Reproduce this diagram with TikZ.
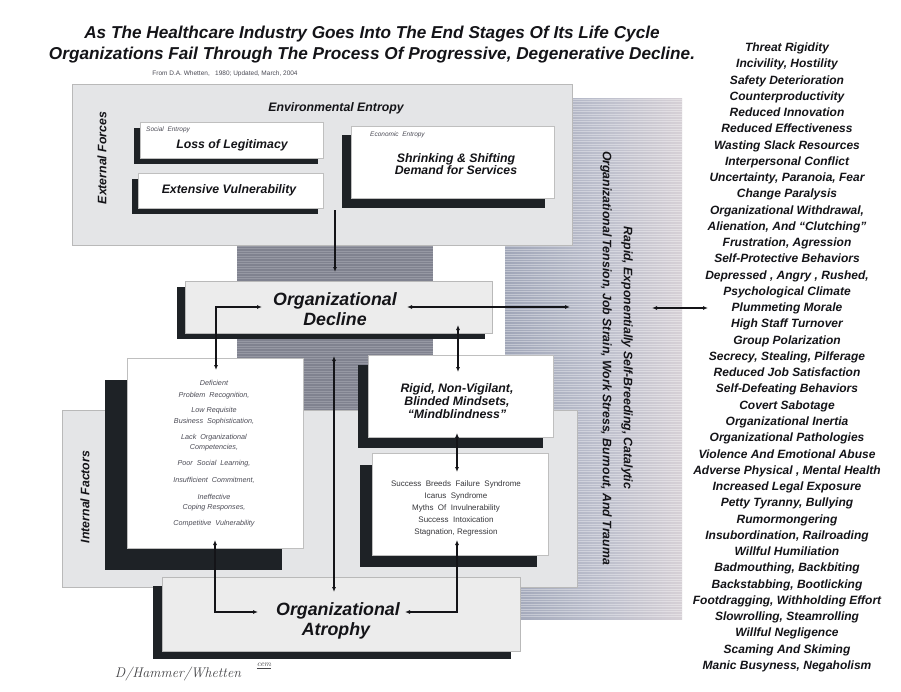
\documentclass[tikz,border=0pt]{standalone}
\usepackage{fontspec}
\setsansfont{Liberation Sans}
\usetikzlibrary{arrows.meta}
\definecolor{shad}{RGB}{30,34,38}
\definecolor{panel}{RGB}{228,229,231}
\definecolor{dbox}{RGB}{236,236,236}
\definecolor{darkcol}{RGB}{128,130,143}
\definecolor{bandL}{RGB}{160,166,184}
\definecolor{bandM}{RGB}{186,189,203}
\definecolor{bandR}{RGB}{214,208,214}
\definecolor{ink}{RGB}{20,20,24}
\definecolor{soft}{RGB}{75,75,85}
\begin{document}
\begin{tikzpicture}[x=1pt,y=-1pt,font=\sffamily,
  every node/.style={inner sep=0pt},
  pan/.style={fill=panel,draw=gray!55,line width=0.4pt},
  wbox/.style={fill=white,draw=gray!50,line width=0.4pt,anchor=north west},
  dotbox/.style={fill=dbox,draw=gray!55,line width=0.4pt,anchor=north west},
  sh/.style={fill=shad},
  tip/.tip={Latex[length=5pt,width=4pt]},
  conn/.style={draw=ink,line width=1.1pt,tip-tip},
  conn1/.style={draw=ink,line width=1.1pt,-tip},
  ttl/.style={font=\sffamily\bfseries\itshape\fontsize{17.2}{20}\selectfont,text=ink,anchor=base},
  big/.style={font=\sffamily\bfseries\itshape\fontsize{17.8}{19}\selectfont,text=ink,anchor=base},
  mid/.style={font=\sffamily\bfseries\itshape\fontsize{12.3}{12.6}\selectfont,text=ink,align=center},
  lst/.style={font=\sffamily\bfseries\itshape\fontsize{12}{13}\selectfont,text=ink,anchor=base},
  tiny/.style={font=\sffamily\itshape\fontsize{6.5}{7}\selectfont,text=soft},
  small/.style={font=\sffamily\fontsize{6.5}{7}\selectfont,text=soft},
  defi/.style={font=\sffamily\itshape\fontsize{7.2}{8}\selectfont,text=soft,anchor=base},
  succ/.style={font=\sffamily\fontsize{8}{9}\selectfont,text=ink!85,anchor=base}]
\useasboundingbox[fill=white] (0,0) rectangle (901,691);

% right band
\fill[left color=bandL,right color=bandR,middle color=bandM] (505,98) rectangle (682,619);
\foreach \yy in {99,101.5,...,618} \draw[white,opacity=0.35,line width=0.5pt] (505,\yy) -- (682,\yy);
% dark central column
\fill[darkcol] (237,245) rectangle (433,410);
\foreach \yy in {246,248.5,...,409} \draw[white,opacity=0.18,line width=0.5pt] (237,\yy) -- (433,\yy);

% panels
\draw[pan] (72,84) rectangle (572,245);
\draw[pan] (62,410) rectangle (577,587);

% title
\node[ttl] (t1) at (372,38) {As The Healthcare Industry Goes Into The End Stages Of Its Life Cycle};
\node[ttl] (t2) at (372,59) {Organizations Fail Through The Process Of Progressive, Degenerative Decline.};
\node[small] (from) at (225,74) {From D.A. Whetten, \ \ 1980; Updated, March, 2004};

% external forces
\node[mid] (env) at (336,108) {Environmental Entropy};
\node[mid,rotate=90] (extf) at (102,158) {External Forces};
\fill[sh] (134,128) rectangle (318,164);
\node[wbox,minimum width=183pt,minimum height=36pt] (loss) at (140,122) {};
\node[tiny,anchor=west] (soc) at (146,130) {Social \ Entropy};
\node[mid] (losst) at (232,145) {Loss of Legitimacy};
\fill[sh] (132,179) rectangle (318,214);
\node[wbox,minimum width=185pt,minimum height=35pt] (vul) at (138,173) {};
\node[mid] (vult) at (229,190) {Extensive Vulnerability};
\fill[sh] (342,135) rectangle (545,208);
\node[wbox,minimum width=203pt,minimum height=72pt] (shr) at (351,126) {};
\node[tiny,anchor=west] (eco) at (370,135) {Economic \ Entropy};
\node[mid] (shrt) at (456,164) {Shrinking \& Shifting\\Demand for Services};

% decline
\fill[sh] (177,287) rectangle (485,339);
\node[dotbox,minimum width=307pt,minimum height=52pt] (dec) at (185,281) {};
\node[big] (dec1) at (335,305) {Organizational};
\node[big] (dec2) at (335,325) {Decline};

% internal
\node[mid,rotate=90] (intf) at (85,497) {Internal Factors};
\fill[sh] (105,380) rectangle (282,570);
\node[wbox,minimum width=176pt,minimum height=190pt] (def) at (127,358) {};
\foreach \t/\yy [count=\i] in {{Deficient}/383,{Problem \ Recognition,}/395,{Low Requisite}/410,{Business \ Sophistication,}/421,{Lack \ Organizational}/437,{Competencies,}/447,{Poor \ Social \ Learning,}/463,{Insufficient \ Commitment,}/480,{Ineffective}/497,{Coping Responses,}/507,{Competitive \ Vulnerability}/523}
  \node[defi] (d\i) at (214,\yy+2.5) {\t};

\fill[sh] (358,365) rectangle (543,448);
\node[wbox,minimum width=185pt,minimum height=82pt] (rig) at (368,355) {};
\node[mid] (rigt) at (457,401) {Rigid, Non-Vigilant,\\Blinded Mindsets,\\“Mindblindness”};

\fill[sh] (360,465) rectangle (537,567);
\node[wbox,minimum width=176pt,minimum height=102pt] (suc) at (372,453) {};
\foreach \t/\yy [count=\i] in {{Success \ Breeds \ Failure \ Syndrome}/483,{Icarus \ Syndrome}/495,{Myths \ Of \ Invulnerability}/507,{Success \ Intoxication}/519,{Stagnation, Regression}/531}
  \node[succ] (s\i) at (456,\yy+3) {\t};

% atrophy
\fill[sh] (153,586) rectangle (511,659);
\node[dotbox,minimum width=358pt,minimum height=74pt] (atr) at (162,577) {};
\node[big] (atr1) at (338,615) {Organizational};
\node[big] (atr2) at (336,635) {Atrophy};

% vertical band texts
\node[mid,rotate=-90] (tens) at (606,358) {Organizational Tension, Job Strain, Work Stress, Burnout, And Trauma};
\node[mid,rotate=-90] (rapid) at (627,358) {Rapid, Exponentially Self-Breeding, Catalytic};

% right list
\foreach \t [count=\i from 0] in {Threat Rigidity,{Incivility, Hostility},Safety Deterioration,Counterproductivity,Reduced Innovation,Reduced Effectiveness,Wasting Slack Resources,Interpersonal Conflict,{Uncertainty, Paranoia, Fear},Change Paralysis,{Organizational Withdrawal,},{Alienation, And “Clutching”},{Frustration, Agression},Self-Protective Behaviors,{Depressed , Angry , Rushed,},Psychological Climate,Plummeting Morale,High Staff Turnover,Group Polarization,{Secrecy, Stealing, Pilferage},Reduced Job Satisfaction,Self-Defeating Behaviors,Covert Sabotage,Organizational Inertia,Organizational Pathologies,Violence And Emotional Abuse,{Adverse Physical , Mental Health},Increased Legal Exposure,{Petty Tyranny, Bullying},Rumormongering,{Insubordination, Railroading},Willful Humiliation,{Badmouthing, Backbiting},{Backstabbing, Bootlicking},{Footdragging, Withholding Effort},{Slowrolling, Steamrolling},Willful Negligence,Scaming And Skiming,{Manic Busyness, Negaholism}}
  \node[lst] (r\i) at (787,51.5+16.26*\i) {\t};

% signature
\node[font=\rmfamily\itshape\fontsize{14}{14}\selectfont,text=ink!80] (sig) at (178,674) {D/Hammer/Whetten};
\node[font=\rmfamily\itshape\fontsize{8}{8}\selectfont,text=ink!80] (sigc) at (264,666) {\underline{cem}};

% connectors
\coordinate (a0) at (335,210); \coordinate (a1) at (335,272);
\draw[conn1] (a0) -- (a1);
\coordinate (b0) at (407,307); \coordinate (b1) at (570,307);
\draw[conn] (b0) -- (b1);
\coordinate (c0) at (652,308); \coordinate (c1) at (708,308);
\draw[conn] (c0) -- (c1);
\coordinate (d0) at (262,307); \coordinate (d1) at (216,307); \coordinate (d2) at (216,370);
\draw[conn] (d0) -- (d1) -- (d2);
\coordinate (e0) at (458,325); \coordinate (e1) at (458,372);
\draw[conn] (e0) -- (e1);
\coordinate (f0) at (457,433); \coordinate (f1) at (457,472);
\draw[conn] (f0) -- (f1);
\coordinate (g0) at (457,540); \coordinate (g1) at (457,612); \coordinate (g2) at (405,612);
\draw[conn] (g0) -- (g1) -- (g2);
\coordinate (h0) at (215,540); \coordinate (h1) at (215,612); \coordinate (h2) at (258,612);
\draw[conn] (h0) -- (h1) -- (h2);
\coordinate (i0) at (334,356); \coordinate (i1) at (334,592);
\draw[conn] (i0) -- (i1);
\end{tikzpicture}
\end{document}
